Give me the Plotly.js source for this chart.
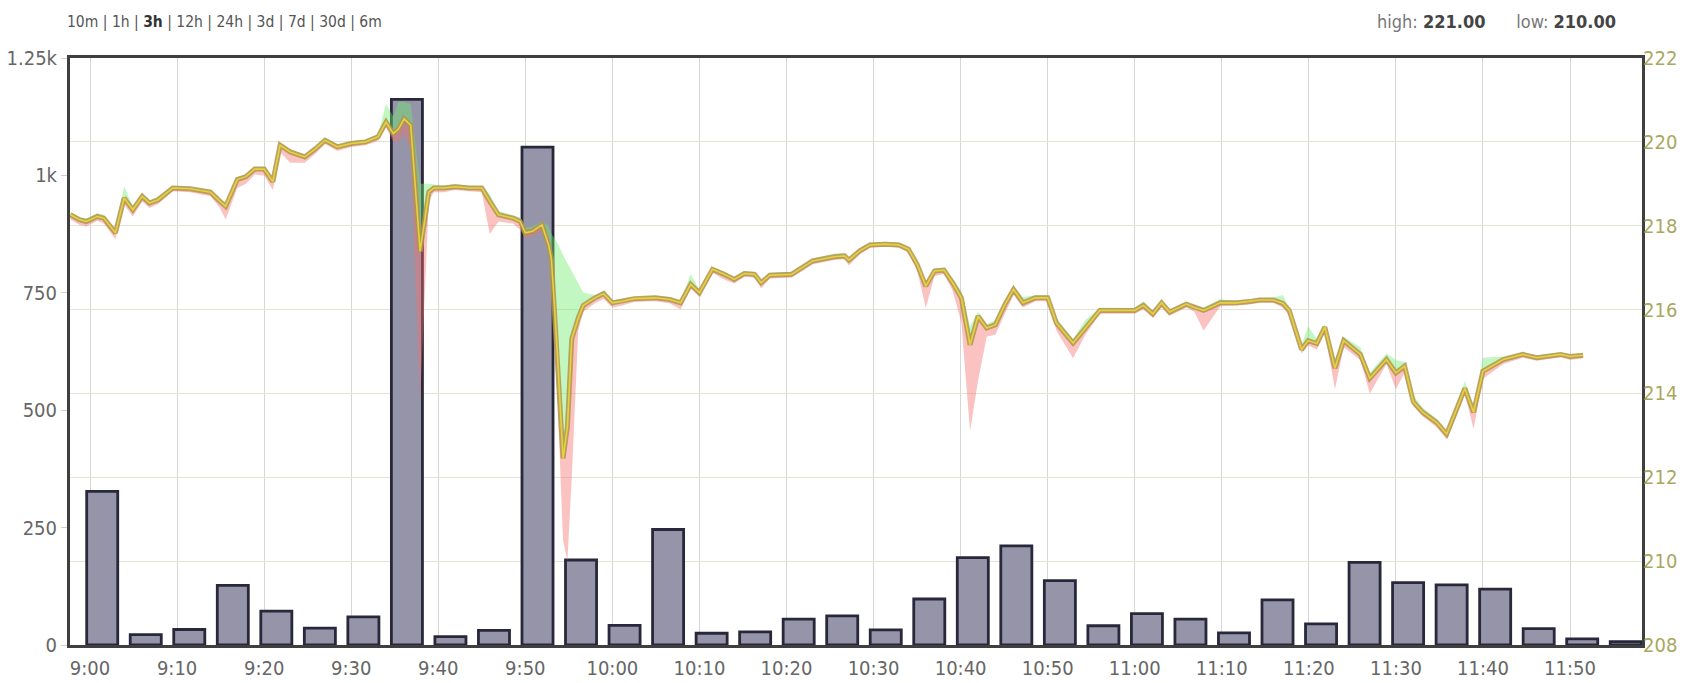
<!DOCTYPE html>
<html>
<head>
<meta charset="utf-8">
<script src="https://cdn.plot.ly/plotly-3.0.1.min.js"></script>
<style>
html,body{margin:0;padding:0;background:#fff;}
#chart{width:1689px;height:683px;}
</style>
</head>
<body>
<div id="chart"></div>
<script>
// ---- data ----
const DAY = '2020-01-01 ';
const barTimes = ['09:01:24','09:06:24','09:11:24','09:16:24','09:21:24','09:26:24','09:31:24','09:36:24','09:41:24','09:46:24','09:51:24','09:56:24','10:01:24','10:06:24','10:11:24','10:16:24','10:21:24','10:26:24','10:31:24','10:36:24','10:41:24','10:46:24','10:51:24','10:56:24','11:01:24','11:06:24','11:11:24','11:16:24','11:21:24','11:26:24','11:31:24','11:36:24','11:41:24','11:46:24','11:51:24','11:56:24'];
const volumes = [327,22,33,127,72,36,60,1162,18,31,1060,181,42,246,25,28,55,62,32,98,186,211,137,41,67,55,26,96,45,176,133,128,119,35,13,7];

const priceTimes = ['08:57:45','08:58:50','08:59:35','09:00:50','09:01:35','09:02:55','09:03:55','09:04:55','09:06:00','09:06:50','09:07:50','09:09:30','09:11:30','09:13:50','09:14:50','09:15:35','09:16:55','09:17:55','09:18:55','09:20:00','09:21:00','09:21:50','09:23:00','09:24:40','09:25:55','09:27:00','09:28:25','09:30:00','09:31:40','09:33:05','09:34:00','09:34:50','09:35:25','09:36:05','09:36:50','09:37:55','09:38:55','09:39:30','09:40:40','09:41:55','09:43:35','09:45:00','09:45:55','09:46:55','09:48:35','09:49:25','09:50:00','09:50:50','09:51:55','09:52:40','09:53:00','09:53:40','09:54:20','09:54:50','09:55:20','09:56:05','09:56:40','09:58:00','09:59:00','10:00:00','10:01:10','10:02:30','10:04:55','10:06:35','10:07:50','10:09:00','10:10:00','10:11:30','10:12:50','10:14:00','10:15:10','10:16:20','10:17:05','10:18:05','10:20:35','10:23:00','10:25:30','10:26:40','10:27:10','10:28:25','10:29:35','10:31:20','10:32:55','10:34:00','10:35:00','10:36:00','10:37:00','10:38:05','10:39:05','10:40:05','10:41:05','10:42:00','10:43:00','10:44:00','10:45:05','10:46:05','10:47:10','10:48:35','10:50:00','10:51:00','10:52:55','10:54:20','10:56:00','10:58:50','11:00:00','11:01:00','11:02:05','11:03:05','11:04:00','11:05:55','11:06:50','11:07:55','11:09:50','11:11:45','11:13:10','11:14:20','11:15:55','11:17:00','11:17:45','11:19:10','11:19:55','11:20:55','11:21:50','11:23:00','11:24:00','11:25:55','11:27:00','11:28:55','11:30:00','11:31:00','11:32:00','11:33:05','11:34:40','11:35:50','11:36:50','11:37:55','11:38:55','11:40:00','11:42:20','11:44:35','11:46:10','11:48:55','11:50:00','11:51:30'];
const closes = [218.26,218.14,218.10,218.22,218.18,217.83,218.66,218.38,218.70,218.54,218.62,218.90,218.88,218.80,218.60,218.46,219.10,219.17,219.35,219.35,219.05,219.92,219.76,219.64,219.84,220.04,219.88,219.96,220.00,220.12,220.47,220.20,220.30,220.55,220.40,217.39,218.80,218.90,218.90,218.93,218.90,218.90,218.58,218.26,218.18,218.10,217.83,217.87,218.02,217.55,217.20,215.00,212.45,213.20,215.30,215.80,216.10,216.28,216.38,216.16,216.20,216.26,216.28,216.24,216.16,216.60,216.40,216.96,216.84,216.72,216.86,216.84,216.64,216.82,216.84,217.16,217.26,217.28,217.18,217.40,217.54,217.56,217.54,217.44,217.08,216.56,216.92,216.94,216.64,216.28,215.16,215.84,215.56,215.64,216.12,216.48,216.16,216.28,216.28,215.68,215.20,215.56,215.98,215.98,215.98,216.10,215.90,216.16,215.94,216.13,216.05,215.98,216.16,216.16,216.19,216.23,216.23,216.15,215.98,215.05,215.26,215.19,215.58,214.60,215.26,214.93,214.36,214.81,214.49,214.65,213.80,213.55,213.31,213.03,213.55,214.12,213.55,214.53,214.81,214.93,214.85,214.93,214.88,214.91];
const highs = [218.32,218.20,218.18,218.30,218.26,217.90,218.95,218.45,218.76,218.60,218.70,218.95,218.92,218.85,218.66,218.50,219.16,219.22,219.40,219.40,219.10,219.98,219.82,219.70,219.90,220.10,219.95,220.02,220.05,220.18,220.90,220.60,220.95,220.95,220.90,219.00,219.00,218.98,218.96,219.00,218.95,218.95,218.75,218.35,218.25,218.20,217.95,217.98,218.10,218.00,217.80,217.60,217.30,217.10,216.90,216.60,216.40,216.35,216.45,216.22,216.26,216.30,216.33,216.30,216.22,216.85,216.46,217.02,216.90,216.78,216.92,216.90,216.70,216.88,216.90,217.22,217.34,217.35,217.24,217.46,217.60,217.62,217.60,217.50,217.15,216.62,217.00,217.00,216.75,216.45,215.60,215.95,215.65,215.75,216.20,216.55,216.30,216.34,216.35,215.80,215.30,215.75,216.05,216.04,216.04,216.20,215.96,216.22,216.00,216.18,216.10,216.05,216.25,216.20,216.24,216.28,216.28,216.35,216.05,215.15,215.60,215.30,215.65,214.80,215.35,215.10,214.50,214.95,214.80,214.75,213.95,213.65,213.40,213.10,213.65,214.30,213.65,214.85,214.88,214.98,214.90,214.98,214.93,214.96];
const lows = [218.15,218.02,217.98,218.12,218.05,217.68,218.50,218.22,218.58,218.42,218.52,218.82,218.80,218.70,218.45,218.15,218.90,219.00,219.22,219.20,218.85,219.75,219.50,219.50,219.72,219.95,219.78,219.88,219.92,220.02,220.35,220.00,220.00,220.20,219.80,213.80,218.60,218.80,218.80,218.85,218.82,218.80,217.80,218.10,218.05,217.90,217.70,217.75,217.85,217.40,216.90,214.00,210.50,210.00,212.00,215.50,215.95,216.15,216.25,216.05,216.10,216.18,216.20,216.15,216.00,216.50,216.30,216.88,216.72,216.62,216.78,216.76,216.50,216.74,216.76,217.08,217.18,217.20,217.05,217.32,217.48,217.50,217.48,217.36,216.95,216.04,216.80,216.85,216.45,215.70,213.10,214.30,215.36,215.40,215.90,216.35,216.05,216.20,216.20,215.50,214.84,215.40,215.90,215.90,215.90,216.00,215.80,216.05,215.85,216.05,215.95,215.50,216.08,216.10,216.12,216.16,216.16,216.05,215.85,214.95,215.15,215.05,215.45,214.10,215.10,214.80,214.00,214.70,214.10,214.50,213.70,213.45,213.20,212.90,213.40,214.00,213.15,214.35,214.70,214.85,214.78,214.86,214.80,214.84];

const rangeLabels = ['10m','1h','3h','12h','24h','3d','7d','30d','6m'];
const activeRange = '3h';
const highValue = '221.00';
const lowValue = '210.00';

const volTickVals = [0,250,500,750,1000,1250];
const volTickText = ['0','250','500','750','1k','1.25k'];

// ---- build ----
const bx = barTimes.map(t => DAY + t);
const px = priceTimes.map(t => DAY + t);
const FONT = "'Liberation Sans Narrow','Arial Narrow','DejaVu Sans Condensed',Arial,sans-serif";

const traces = [
  {type:'bar', x:bx, y:volumes, yaxis:'y', width:214000,
   marker:{color:'rgb(150,148,168)', line:{color:'#29283a', width:2.8}}, hoverinfo:'skip'},
  {type:'scatter', mode:'lines', x:px, y:closes, yaxis:'y2', line:{width:0, color:'rgba(0,0,0,0)'}, hoverinfo:'skip'},
  {type:'scatter', mode:'lines', x:px, y:highs, yaxis:'y2', fill:'tonexty', fillcolor:'rgba(110,235,110,0.42)', line:{width:0, color:'rgba(0,0,0,0)'}, hoverinfo:'skip'},
  {type:'scatter', mode:'lines', x:px, y:closes, yaxis:'y2', line:{width:0, color:'rgba(0,0,0,0)'}, hoverinfo:'skip'},
  {type:'scatter', mode:'lines', x:px, y:lows, yaxis:'y2', fill:'tonexty', fillcolor:'rgba(245,110,110,0.42)', line:{width:0, color:'rgba(0,0,0,0)'}, hoverinfo:'skip'},
  {type:'scatter', mode:'lines', x:px, y:closes, yaxis:'y2', line:{width:5, color:'rgba(176,148,78,0.85)'}, hoverinfo:'skip'},
  {type:'scatter', mode:'lines', x:px, y:closes, yaxis:'y2', line:{width:1.6, color:'#e8d23a'}, hoverinfo:'skip'}
];

const headerText = rangeLabels.map(r => r === activeRange ? '<b><span style="color:#333">' + r + '</span></b>' : r).join(' | ');
const hlText = 'high: <b><span style="color:#444">' + highValue + '</span></b>\u00a0\u00a0\u00a0\u00a0\u00a0 low: <b><span style="color:#444">' + lowValue + '</span></b>';

const layout = {
  width:1689, height:683,
  margin:{l:70, r:47, t:58, b:38},
  paper_bgcolor:'#fff', plot_bgcolor:'#fff',
  showlegend:false, hovermode:false,
  font:{family:FONT, color:'#666', size:20},
  xaxis:{type:'date', range:[DAY+'08:57:42', DAY+'11:58:16'],
    tick0:DAY+'09:00:00', dtick:600000, tickformat:'%-H:%M',
    showgrid:true, gridcolor:'#d6d6d6', gridwidth:1,
    showline:true, linecolor:'#3f3f3f', linewidth:3, mirror:true,
    ticks:'outside', ticklen:3, tickcolor:'rgba(0,0,0,0)', zeroline:false,
    tickfont:{size:20, color:'#666', family:FONT}},
  yaxis:{range:[0,1250], tickvals:volTickVals, ticktext:volTickText,
    showgrid:false, zeroline:false, ticks:'outside', ticklen:6, tickcolor:'#cfcfcf',
    showline:true, linecolor:'#3f3f3f', linewidth:3, mirror:true,
    tickfont:{size:20, color:'#666', family:FONT}},
  yaxis2:{overlaying:'y', side:'right', range:[208,222], dtick:2, tick0:208,
    showgrid:true, gridcolor:'#e4e4d4', gridwidth:1, zeroline:false, showline:false,
    ticks:'', tickfont:{size:20, color:'#a9a85e', family:FONT}},
  bargap:0,
  annotations:[
    {xref:'paper', yref:'paper', x:-0.003, y:1.062, xanchor:'left', yanchor:'middle', showarrow:false,
     text:headerText, font:{size:15.5, color:'#555', family:FONT}},
    {xref:'paper', yref:'paper', x:0.9847, y:1.062, xanchor:'right', yanchor:'middle', showarrow:false,
     text:hlText, font:{size:18, color:'#777', family:FONT}}
  ]
};

Plotly.newPlot('chart', traces, layout, {displayModeBar:false, staticPlot:true});
</script>
</body>
</html>
